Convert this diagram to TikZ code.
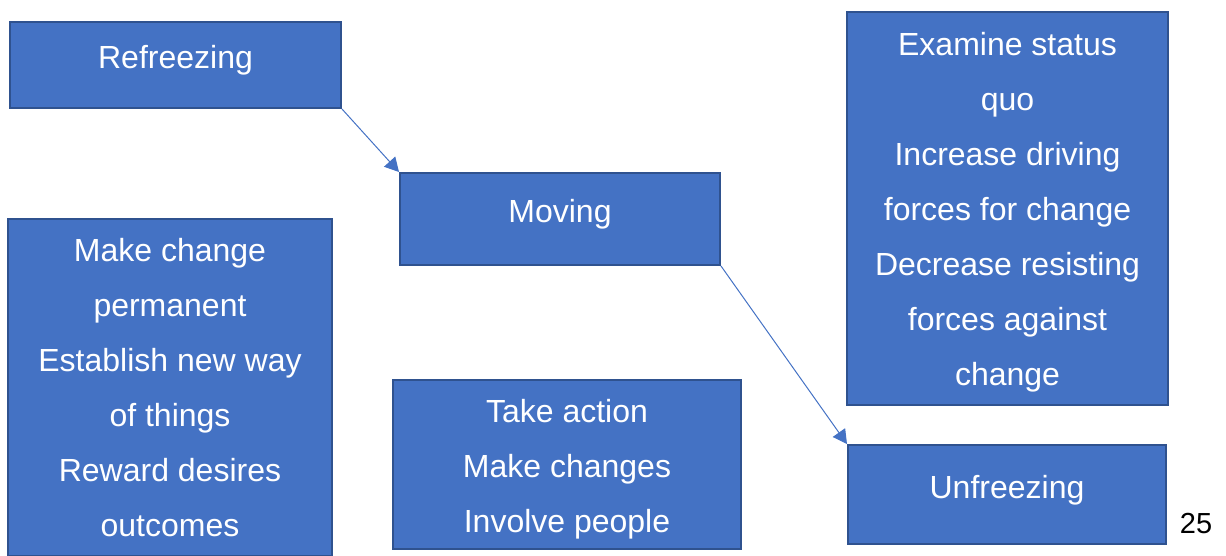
\documentclass[tikz,border=0pt]{standalone}
\usepackage{fontspec}
\setmainfont{Liberation Sans}
\usetikzlibrary{arrows.meta}
\definecolor{boxfill}{HTML}{4472C4}
\definecolor{boxedge}{HTML}{2F528F}
% invisible strut that gives a first line extra height
\newcommand{\topstrut}[1]{\rule{0pt}{#1}}
\begin{document}
\begin{tikzpicture}[x=1pt,y=-1pt,
  stage/.style={draw=boxedge, line width=2pt, fill=boxfill, text=white,
    inner sep=0pt, align=center, font=\fontsize{32}{55}\selectfont},
  % raise the text inside a box by deepening its last line
  deepen/.style={execute at end node={\rule[-#1]{0pt}{0pt}}},
  flow/.style={draw=boxfill, line width=1pt, -{Triangle[length=14pt,width=15pt]}}]
\useasboundingbox (0,0) rectangle (1226,555);
% stage boxes: centre and size in pixels
\node[stage, deepen=17pt, minimum width=331pt, minimum height=86pt] (ref) at (175.5,65) {Refreezing};
\node[stage, deepen=17pt, minimum width=320pt, minimum height=92pt] (mov) at (560,219) {Moving};
\node[stage, minimum width=321pt, minimum height=393pt] (unf-list) at (1007.5,208.5)
  {\topstrut{30pt}Examine status\\quo\\Increase driving\\forces for change\\Decrease resisting\\forces against\\change};
\node[stage, minimum width=324pt, minimum height=337pt] (ref-list) at (170,387.5)
  {Make change\\permanent\\Establish new way\\of things\\Reward desires\\outcomes};
\node[stage, minimum width=348pt, minimum height=169pt] (mov-list) at (567,464.5)
  {\topstrut{33.5pt}Take action\\Make changes\\Involve people};
\node[stage, deepen=15pt, minimum width=318pt, minimum height=99pt] (unf) at (1007,494.5) {Unfreezing};
% page number
\node[font=\fontsize{29}{32}\selectfont, anchor=base] (page) at (1196,533) {25};
% connectors
\draw[flow] (ref.south east) -- (mov.north west);
\draw[flow] (mov.south east) -- (unf.north west);
\end{tikzpicture}
\end{document}
